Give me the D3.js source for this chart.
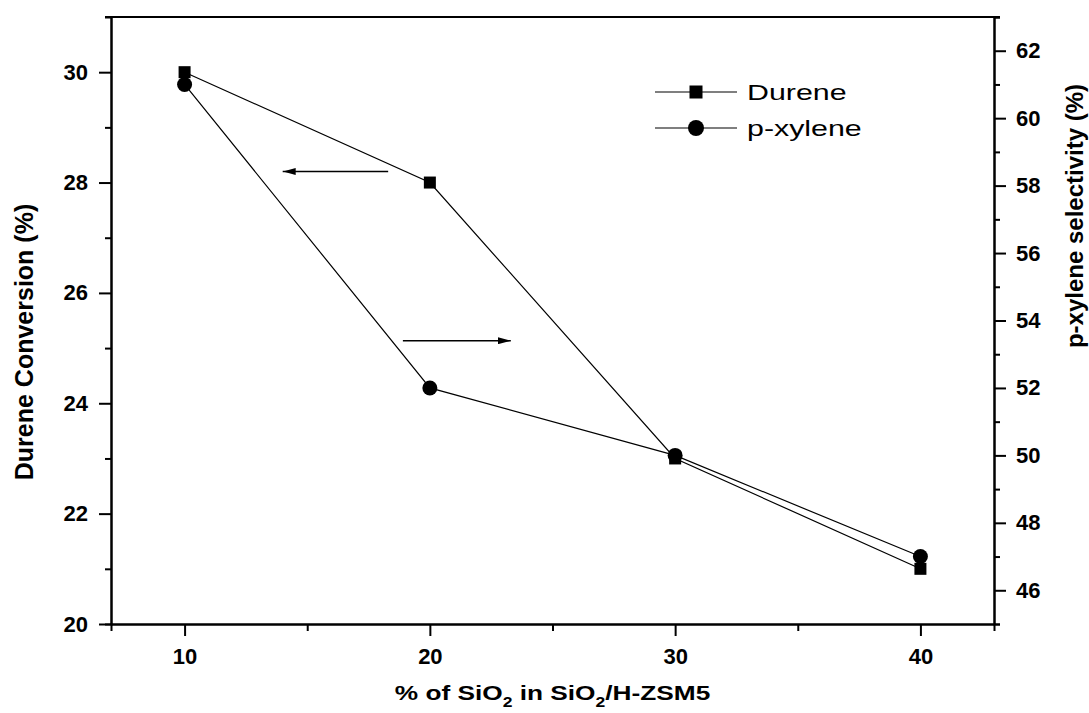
<!DOCTYPE html>
<html>
<head>
<meta charset="utf-8">
<script src="https://cdn.jsdelivr.net/npm/d3@7"></script>
<style>
  body { margin: 0; background: #fff; }
  svg { font-family: "Liberation Sans", Arial, sans-serif; }
</style>
</head>
<body>
<svg width="1089" height="713"></svg>
<script>
var width = 1089, height = 713;

// data
var sio2 = [10, 20, 30, 40];
var dureneConv = [30, 28, 23, 21];
var pxyleneSel = [61, 52, 50, 47];

var xTicks = [10, 20, 30, 40];
var xMinor = [15, 25, 35];
var yLeftTicks = [20, 22, 24, 26, 28, 30];
var yLeftMinor = [21, 23, 25, 27, 29];
var yRightTicks = [46, 48, 50, 52, 54, 56, 58, 60, 62];
var yRightMinor = [45, 47, 49, 51, 53, 55, 57, 59, 61, 63];

// arrows: [x1, x2, y] in data units (left arrow on left axis, right arrow on right axis)
var leftArrow = [18.3, 14.0, 28.2];
var rightArrow = [18.9, 23.3, 53.4];

var margin = {left: 111, right: 95, top: 17, bottom: 89};

var x = d3.scaleLinear().domain([7, 43]).range([margin.left, width - margin.right]);
var yL = d3.scaleLinear().domain([20, 31]).range([height - margin.bottom, margin.top]);
var yR = d3.scaleLinear().domain([45, 63]).range([height - margin.bottom, margin.top]);

var svg = d3.select("svg");

var defs = svg.append("defs");
defs.append("marker")
    .attr("id", "arrowhead")
    .attr("viewBox", "0 0 13 7")
    .attr("refX", 13).attr("refY", 3.5)
    .attr("markerWidth", 13).attr("markerHeight", 7)
    .attr("markerUnits", "userSpaceOnUse")
    .attr("orient", "auto")
    .append("path")
    .attr("d", "M0,0L13,3.5L0,7Z")
    .attr("fill", "#000");

function styleAxis(g, fontSize) {
    g.selectAll(".domain").attr("stroke-width", 2).attr("stroke", "#000");
    g.selectAll(".tick line").attr("stroke-width", 2).attr("stroke", "#000");
    g.selectAll(".tick text")
        .attr("font-size", fontSize)
        .attr("font-weight", "bold")
        .attr("font-family", "'Liberation Sans', Arial, sans-serif")
        .attr("fill", "#000");
}

var y0 = height - margin.bottom;

// minor ticks first
svg.append("g").attr("transform", "translate(0," + y0 + ")")
    .call(d3.axisBottom(x).tickValues(xMinor).tickSize(7).tickFormat(""))
    .call(function(g) { styleAxis(g, 22); });
svg.append("g").attr("transform", "translate(" + margin.left + ",0)")
    .call(d3.axisLeft(yL).tickValues(yLeftMinor).tickSize(6).tickFormat(""))
    .call(function(g) { styleAxis(g, 22); });
svg.append("g").attr("transform", "translate(" + (width - margin.right) + ",0)")
    .call(d3.axisRight(yR).tickValues(yRightMinor).tickSize(6).tickFormat(""))
    .call(function(g) { styleAxis(g, 22); });

// major axes
var gx = svg.append("g").attr("transform", "translate(0," + y0 + ")")
    .call(d3.axisBottom(x).tickValues(xTicks).tickSize(12).tickSizeOuter(0))
    .call(function(g) { styleAxis(g, 22); });
gx.selectAll(".tick text").attr("dy", "0.71em").attr("y", 24);

svg.append("g").attr("transform", "translate(" + margin.left + ",0)")
    .call(d3.axisLeft(yL).tickValues(yLeftTicks).tickSize(12).tickSizeOuter(0).tickPadding(11))
    .call(function(g) { styleAxis(g, 22); });

svg.append("g").attr("transform", "translate(" + (width - margin.right) + ",0)")
    .call(d3.axisRight(yR).tickValues(yRightTicks).tickSize(12).tickSizeOuter(0).tickPadding(10))
    .call(function(g) { styleAxis(g, 22); });

// top frame line
svg.append("line")
    .attr("x1", x.range()[0] - 6).attr("x2", x.range()[1] + 6)
    .attr("y1", margin.top).attr("y2", margin.top)
    .attr("stroke", "#000").attr("stroke-width", 2);

// series lines
var lineL = d3.line().x(function(d, i) { return x(sio2[i]); }).y(function(d) { return yL(d); });
var lineR = d3.line().x(function(d, i) { return x(sio2[i]); }).y(function(d) { return yR(d); });

svg.append("path").datum(dureneConv).attr("d", lineL)
    .attr("fill", "none").attr("stroke", "#000").attr("stroke-width", 1.2);
svg.append("path").datum(pxyleneSel).attr("d", lineR)
    .attr("fill", "none").attr("stroke", "#000").attr("stroke-width", 1.2);

var sq = 12;
svg.selectAll(".sq").data(dureneConv).join("rect")
    .attr("class", "sq")
    .attr("x", function(d, i) { return x(sio2[i]) - sq / 2; })
    .attr("y", function(d) { return yL(d) - sq / 2; })
    .attr("width", sq).attr("height", sq)
    .attr("fill", "#000");

svg.selectAll(".ci").data(pxyleneSel).join("circle")
    .attr("class", "ci")
    .attr("cx", function(d, i) { return x(sio2[i]); })
    .attr("cy", function(d) { return yR(d); })
    .attr("r", 7.5)
    .attr("fill", "#000");

// arrows
svg.append("line")
    .attr("x1", x(leftArrow[0])).attr("x2", x(leftArrow[1]))
    .attr("y1", yL(leftArrow[2])).attr("y2", yL(leftArrow[2]))
    .attr("stroke", "#000").attr("stroke-width", 1.5)
    .attr("marker-end", "url(#arrowhead)");
svg.append("line")
    .attr("x1", x(rightArrow[0])).attr("x2", x(rightArrow[1]))
    .attr("y1", yR(rightArrow[2])).attr("y2", yR(rightArrow[2]))
    .attr("stroke", "#000").attr("stroke-width", 1.5)
    .attr("marker-end", "url(#arrowhead)");

// legend
var legend = svg.append("g").attr("transform", "translate(655,92)");
legend.append("line").attr("x1", 0).attr("x2", 82).attr("y1", 0).attr("y2", 0)
    .attr("stroke", "#000").attr("stroke-width", 1.2);
legend.append("rect").attr("x", 41 - 6.5).attr("y", -6.5).attr("width", 13).attr("height", 13).attr("fill", "#000");
legend.append("text").attr("transform", "translate(92,0) scale(1.38,1)").attr("dy", "0.36em")
    .attr("font-size", 22).text("Durene");
legend.append("line").attr("x1", 0).attr("x2", 82).attr("y1", 36).attr("y2", 36)
    .attr("stroke", "#000").attr("stroke-width", 1.2);
legend.append("circle").attr("cx", 41).attr("cy", 36).attr("r", 8).attr("fill", "#000");
legend.append("text").attr("transform", "translate(92,36) scale(1.38,1)").attr("dy", "0.36em")
    .attr("font-size", 22).text("p-xylene");

// axis titles
svg.append("text")
    .attr("transform", "translate(33,342) rotate(-90)")
    .attr("text-anchor", "middle")
    .attr("font-size", 25).attr("font-weight", "bold")
    .text("Durene Conversion (%)");

svg.append("text")
    .attr("transform", "translate(1083,216) rotate(-90)")
    .attr("text-anchor", "middle")
    .attr("font-size", 24).attr("font-weight", "bold")
    .text("p-xylene selectivity (%)");

var xt = svg.append("text")
    .attr("transform", "translate(" + ((x.range()[0] + x.range()[1]) / 2) + ",700) scale(1.25,1)")
    .attr("text-anchor", "middle")
    .attr("font-size", 21).attr("font-weight", "bold");
xt.append("tspan").text("% of SiO");
xt.append("tspan").attr("font-size", 14).attr("dy", 7).text("2");
xt.append("tspan").attr("dy", -7).text(" in SiO");
xt.append("tspan").attr("font-size", 14).attr("dy", 7).text("2");
xt.append("tspan").attr("dy", -7).text("/H-ZSM5");
</script>
</body>
</html>
